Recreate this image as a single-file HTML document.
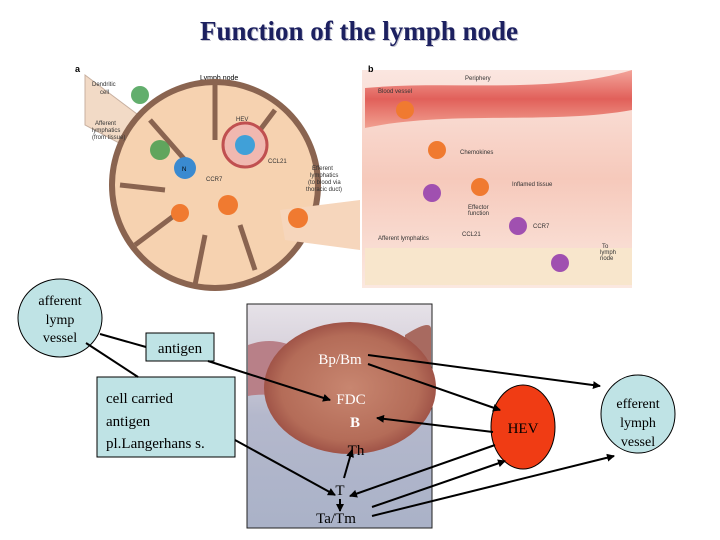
<!DOCTYPE html>
<html><head><meta charset="utf-8"><style>
body{margin:0;background:#fff;}
svg{display:block}
</style></head><body>
<svg width="720" height="540" viewBox="0 0 720 540" xmlns="http://www.w3.org/2000/svg" font-family="Liberation Serif, serif">
<defs>
<marker id="ar" markerWidth="8" markerHeight="8" refX="7" refY="4" orient="auto" markerUnits="userSpaceOnUse">
<path d="M0,0 L8,4 L0,8 z" fill="#000"/></marker>
<radialGradient id="fol" cx="50%" cy="50%" r="50%">
<stop offset="0" stop-color="#c88670"/><stop offset="0.8" stop-color="#b46c58"/><stop offset="1" stop-color="#a05448"/></radialGradient>
<linearGradient id="per" x1="0" y1="0" x2="0" y2="1">
<stop offset="0" stop-color="#fbe6e0"/><stop offset="0.5" stop-color="#f6c9bb"/><stop offset="1" stop-color="#fbe8e0"/></linearGradient>
<linearGradient id="bv" x1="0" y1="0" x2="0" y2="1">
<stop offset="0" stop-color="#f3a49a"/><stop offset="0.5" stop-color="#e1605a"/><stop offset="1" stop-color="#f1a090"/></linearGradient>
<linearGradient id="ph" x1="0" y1="0" x2="0" y2="1">
<stop offset="0" stop-color="#e6e2e8"/><stop offset="0.2" stop-color="#d8d2dc"/><stop offset="0.5" stop-color="#b4b8cc"/><stop offset="1" stop-color="#aab2c8"/></linearGradient>
</defs>
<rect width="720" height="540" fill="#fff"/>
<text x="360" y="41" text-anchor="middle" font-size="27" font-weight="bold" fill="#aab" opacity="0.7">Function of the lymph node</text>
<text x="359" y="40" text-anchor="middle" font-size="27" font-weight="bold" fill="#1c2060">Function of the lymph node</text>

<!-- panel a -->
<text x="75" y="72" font-family="Liberation Sans, sans-serif" font-size="9" font-weight="bold">a</text>
<text x="200" y="80" font-family="Liberation Sans, sans-serif" font-size="7">Lymph node</text>
<path d="M85,75 L165,135 L180,175 L85,125 Z" fill="#f2dac6" stroke="#c8b0a0"/>
<circle cx="215" cy="185" r="103" fill="#f6d2b0" stroke="#8a6450" stroke-width="6"/>
<g stroke="#8a6450" stroke-width="5" fill="none">
<path d="M150,120 L185,160"/><path d="M215,85 L215,140"/><path d="M275,110 L245,150"/>
<path d="M120,185 L165,190"/><path d="M135,245 L175,215"/><path d="M195,285 L205,235"/><path d="M255,270 L240,225"/>
</g>
<path d="M280,210 L360,200 L360,250 L285,240 Z" fill="#f6d6bc"/>
<circle cx="245" cy="145" r="22" fill="#f0b8b0" stroke="#c05050" stroke-width="3"/>
<circle cx="245" cy="145" r="10" fill="#40a0d8"/>
<circle cx="185" cy="168" r="11" fill="#3a8ad0"/>
<text x="182" y="171" font-family="Liberation Sans, sans-serif" font-size="6">N</text>
<circle cx="180" cy="213" r="9" fill="#f07a30"/>
<circle cx="228" cy="205" r="10" fill="#f07a30"/>
<circle cx="298" cy="218" r="10" fill="#f07a30"/>
<circle cx="140" cy="95" r="9" fill="#3b9a48" opacity="0.8"/>
<circle cx="160" cy="150" r="10" fill="#3b9a48" opacity="0.8"/>
<g font-family="Liberation Sans, sans-serif" font-size="6" fill="#333">
<text x="92" y="86">Dendritic</text><text x="100" y="94">cell</text>
<text x="95" y="125">Afferent</text><text x="92" y="132">lymphatics</text><text x="92" y="139">(from tissue)</text>
<text x="236" y="121">HEV</text><text x="268" y="163">CCL21</text><text x="206" y="181">CCR7</text>
<text x="312" y="170">Efferent</text><text x="310" y="177">lymphatics</text><text x="308" y="184">(to blood via</text><text x="306" y="191">thoracic duct)</text>
</g>
<!-- panel b -->
<rect x="362" y="70" width="270" height="218" fill="url(#per)"/>
<path d="M365,88 C450,80 550,95 632,70 L632,110 C550,125 450,110 365,128 Z" fill="url(#bv)"/>
<path d="M365,248 L632,248 L632,285 L365,285 Z" fill="#f8e6cc"/>
<text x="368" y="72" font-family="Liberation Sans, sans-serif" font-size="9" font-weight="bold">b</text>
<g font-family="Liberation Sans, sans-serif" font-size="6" fill="#333">
<text x="465" y="80">Periphery</text><text x="378" y="93">Blood vessel</text>
<text x="460" y="154">Chemokines</text><text x="512" y="186">Inflamed tissue</text>
<text x="468" y="209">Effector</text><text x="468" y="215">function</text>
<text x="378" y="240">Afferent lymphatics</text><text x="462" y="236">CCL21</text><text x="533" y="228">CCR7</text>
<text x="602" y="248">To</text><text x="600" y="254">lymph</text><text x="600" y="260">node</text>
</g>
<circle cx="405" cy="110" r="9" fill="#f07a30"/>
<circle cx="437" cy="150" r="9" fill="#f07a30"/>
<circle cx="480" cy="187" r="9" fill="#f07a30"/>
<circle cx="432" cy="193" r="9" fill="#a050b0"/>
<circle cx="518" cy="226" r="9" fill="#a050b0"/>
<circle cx="560" cy="263" r="9" fill="#a050b0"/>

<!-- photo -->
<rect x="247" y="304" width="185" height="224" fill="url(#ph)" stroke="#222" stroke-width="1"/>
<path d="M248,345 Q275,335 300,350 L300,400 Q270,392 248,396 Z" fill="#b88088"/>
<path d="M405,335 Q432,318 431,330 L431,385 Q415,372 405,360 Z" fill="#a86a60"/>
<ellipse cx="350" cy="388" rx="86" ry="66" fill="url(#fol)"/>

<!-- bottom shapes -->
<ellipse cx="60" cy="318" rx="42" ry="39" fill="#bfe3e5" stroke="#000" stroke-width="1"/>
<g font-size="14" text-anchor="middle"><text x="60" y="305">afferent</text><text x="60" y="324">lymp</text><text x="60" y="342">vessel</text></g>
<rect x="146" y="333" width="68" height="28" fill="#bfe3e5" stroke="#000"/>
<text x="180" y="353" font-size="15" text-anchor="middle">antigen</text>
<rect x="97" y="377" width="138" height="80" fill="#bfe3e5" stroke="#000"/>
<g font-size="15"><text x="106" y="403">cell carried</text><text x="106" y="426">antigen</text><text x="106" y="448">pl.Langerhans s.</text></g>
<ellipse cx="523" cy="427" rx="32" ry="42" fill="#f03c14" stroke="#000"/>
<text x="523" y="433" font-size="15" text-anchor="middle">HEV</text>
<ellipse cx="638" cy="414" rx="37" ry="39" fill="#bfe3e5" stroke="#000"/>
<g font-size="14" text-anchor="middle"><text x="638" y="408">efferent</text><text x="638" y="427">lymph</text><text x="638" y="446">vessel</text></g>

<g font-size="15" fill="#fff" text-anchor="middle">
<text x="340" y="364">Bp/Bm</text><text x="351" y="404">FDC</text><text x="355" y="427" font-weight="bold">B</text>
</g>
<g font-size="15" fill="#000" text-anchor="middle">
<text x="356" y="455">Th</text><text x="340" y="495">T</text><text x="336" y="523">Ta/Tm</text>
</g>

<g stroke="#000" stroke-width="2" fill="none">
<line x1="100" y1="334" x2="146" y2="347"/>
<line x1="86" y1="343" x2="138" y2="377"/>
<line x1="208" y1="361" x2="330" y2="400" marker-end="url(#ar)"/>
<line x1="235" y1="440" x2="335" y2="495" marker-end="url(#ar)"/>
<line x1="368" y1="355" x2="600" y2="386" marker-end="url(#ar)"/>
<line x1="368" y1="364" x2="500" y2="410" marker-end="url(#ar)"/>
<line x1="493" y1="432" x2="377" y2="418" marker-end="url(#ar)"/>
<line x1="495" y1="445" x2="350" y2="496" marker-end="url(#ar)"/>
<line x1="372" y1="507" x2="505" y2="461" marker-end="url(#ar)"/>
<line x1="372" y1="516" x2="614" y2="456" marker-end="url(#ar)"/>
<line x1="344" y1="478" x2="352" y2="450" marker-end="url(#ar)"/>
<line x1="340" y1="499" x2="340" y2="511" marker-end="url(#ar)"/>
</g>
</svg>
</body></html>
